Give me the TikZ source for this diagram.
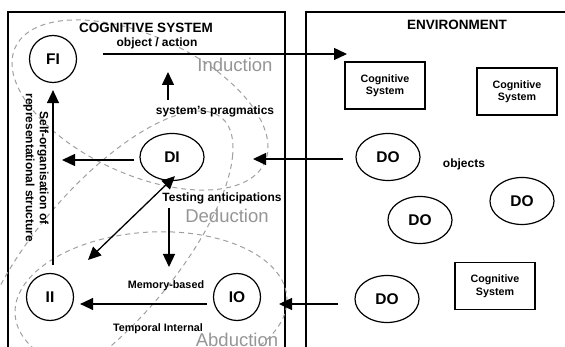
\documentclass[tikz,border=0pt]{standalone}
\usepackage{fontspec}
\setmainfont{Liberation Sans}
\usetikzlibrary{arrows.meta,shapes.geometric,calc}
\definecolor{dashgray}{RGB}{160,160,160}
\definecolor{labgray}{RGB}{150,150,150}
\begin{document}
\begin{tikzpicture}[x=1pt,y=-1pt,
  frame/.style={draw=black,line width=1.3pt},
  ell/.style={draw=dashgray,line width=1pt,dash pattern=on 5pt off 4pt},
  arr/.style={line width=1.3pt,-{Triangle[length=13pt,width=12pt]}},
  darr/.style={line width=1.3pt,{Triangle[length=13pt,width=12pt]}-{Triangle[length=13pt,width=12pt]}},
  rnode/.style={draw,circle,line width=1.2pt,minimum size=47pt,inner sep=0pt,font=\fontsize{15.5}{17}\selectfont\bfseries},
  onode/.style={draw,ellipse,line width=1.2pt,minimum width=64pt,minimum height=47pt,inner sep=0pt,font=\fontsize{15.5}{17}\selectfont\bfseries},
  csbox/.style={draw,line width=1.2pt,minimum width=80pt,minimum height=47pt,inner sep=0pt,align=center,font=\fontsize{10.7}{12.5}\selectfont\bfseries},
  lbl/.style={inner sep=0pt,anchor=base,font=\fontsize{12}{14}\selectfont\bfseries},
  slbl/.style={inner sep=0pt,anchor=base,font=\fontsize{10.8}{13}\selectfont\bfseries},
  hdr/.style={inner sep=0pt,anchor=base,font=\fontsize{13.5}{16}\selectfont\bfseries},
  mode/.style={inner sep=0pt,anchor=base,text=labgray,font=\fontsize{18.5}{20}\selectfont}
]
\useasboundingbox (0,0) rectangle (565,347);
\fill[white] (0,0) rectangle (565,347);
\clip (0,0) rectangle (565,347);

% frames
\draw[frame] (8,12) rectangle (285,360);
\draw[frame] (306,12) rectangle (580,360);

% dashed reasoning regions
\draw[ell] plot[domain=0:356,samples=90,smooth cycle] ({140+128*cos(\x)},{105+42*cos(\x)+74*sin(\x)});
\draw[ell] plot[domain=0:356,samples=90,smooth cycle] ({104.6+128.4*cos(\x)},{255-107*cos(\x)+96.4*sin(\x)});
\draw[ell] plot[domain=0:356,samples=90,smooth cycle] ({151+136*cos(\x)},{306-6*cos(\x)+74*sin(\x)});

% texts
\node[hdr] (cogsys) at (146,33) {COGNITIVE SYSTEM};
\node[lbl] (objact) at (157,47) {object / action};
\node[mode] (ind) at (235,72) {Induction};
\node[lbl] (prag) at (215,115) {system's pragmatics};
\node[lbl] (test) at (222,202) {Testing anticipations};
\node[mode] (ded) at (227,223) {Deduction};
\node[slbl] (mem) at (166,289) {Memory-based};
\node[slbl] (temp) at (158,332) {Temporal Internal};
\node[mode] (abd) at (237,346) {Abduction};
\node[hdr] (env) at (457,30) {ENVIRONMENT};
\node[lbl] (objs) at (464,168) {objects};
\node[inner sep=0pt,rotate=-90,align=center,font=\fontsize{12}{14}\selectfont\bfseries] (selforg) at (36,168) {Self-organisation of\\representational structure};

% nodes
\node[rnode] (FI) at (53,59) {FI};
\node[onode] (DI) at (172,157) {DI};
\node[rnode] (II) at (50,297) {II};
\node[rnode] (IO) at (237,297) {IO};
\node[onode] (DO1) at (388,157) {DO};
\node[onode] (DO2) at (522,201) {DO};
\node[onode] (DO3) at (420,220) {DO};
\node[onode] (DO4) at (387,299) {DO};
\node[csbox] (cs1) at (385,85.5) {Cognitive\\System};
\node[csbox] (cs2) at (517,91.5) {Cognitive\\System};
\node[csbox] (cs3) at (495,286) {Cognitive\\System};

% free connector ends
\coordinate (oaS) at (103,54);
\coordinate (oaE) at (347,54);
\coordinate (diL) at (62,160);
\coordinate (diR) at (253,159);
\coordinate (ioR) at (279,304);
\coordinate (pragB) at (168,100);
\coordinate (pragT) at (168,72);
\coordinate (testT) at (169,208);
\coordinate (testB) at (169,267);
\coordinate (dbl) at (88,260);

% connectors
\draw[arr] (oaS) -- (oaE);
\draw[arr] ([xshift=-5pt,yshift=-3pt]DI.west) -- (diL);
\draw[arr] ([xshift=-12pt,yshift=-2pt]DO1.west) -- (diR);
\draw[arr] ([xshift=-16pt,yshift=-5pt]DO4.west) -- (ioR);
\draw[arr] ([xshift=-6pt,yshift=-7pt]IO.west) -- ([xshift=6pt,yshift=-7pt]II.east);
\draw[arr] ($(FI.south |- II.north)+(0,-8)$) -- ([yshift=-7pt]FI.south);
\draw[darr] (dbl) -- ($(DI.south)+(3,-5)$);
\draw[arr] (pragB) -- (pragT);
\draw[arr] (testT) -- (testB);
\end{tikzpicture}
\end{document}
